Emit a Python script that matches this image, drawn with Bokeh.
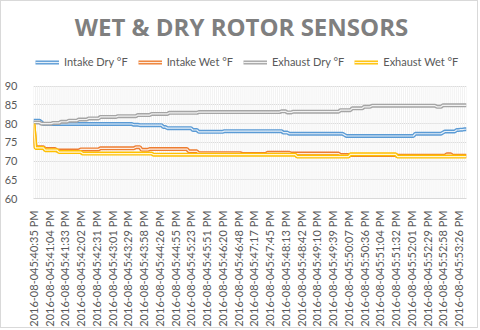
from math import pi
from bokeh.plotting import figure
from bokeh.models import Range1d, FixedTicker, Legend, LegendItem, Label
from bokeh.embed import file_html
from bokeh.resources import INLINE

tick_labels = [
    "2016-08-045:40:35 PM", "2016-08-045:41:04 PM", "2016-08-045:41:33 PM", "2016-08-045:42:02 PM",
    "2016-08-045:42:31 PM", "2016-08-045:43:01 PM", "2016-08-045:43:29 PM", "2016-08-045:43:58 PM",
    "2016-08-045:44:26 PM", "2016-08-045:44:55 PM", "2016-08-045:45:23 PM", "2016-08-045:45:51 PM",
    "2016-08-045:46:20 PM", "2016-08-045:46:48 PM", "2016-08-045:47:17 PM", "2016-08-045:47:45 PM",
    "2016-08-045:48:13 PM", "2016-08-045:48:42 PM", "2016-08-045:49:10 PM", "2016-08-045:49:39 PM",
    "2016-08-045:50:07 PM", "2016-08-045:50:36 PM", "2016-08-045:51:04 PM", "2016-08-045:51:32 PM",
    "2016-08-045:52:01 PM", "2016-08-045:52:29 PM", "2016-08-045:52:58 PM", "2016-08-045:53:26 PM",
]
label_step = 8  # one label every 8 samples
y_ticks = [60, 65, 70, 75, 80, 85, 90]

intake_dry = [
    80.8, 80.8, 80.8, 80.8, 80.4, 79.9, 79.9, 79.9, 79.9, 79.9,
    79.9, 79.9, 79.9, 79.9, 79.9, 79.9, 79.9, 79.9, 79.9, 79.9,
    79.9, 79.9, 79.9, 79.9, 79.9, 79.9, 79.9, 79.9, 79.9, 79.9,
    79.9, 79.9, 79.9, 79.9, 79.9, 79.9, 79.9, 79.9, 79.9, 79.9,
    79.9, 79.9, 79.9, 79.9, 79.9, 79.9, 79.9, 79.9, 79.9, 79.9,
    79.9, 79.7, 79.7, 79.7, 79.6, 79.6, 79.6, 79.6, 79.6, 79.6,
    79.6, 79.6, 79.6, 79.6, 79.6, 79.6, 79.1, 79.1, 78.8, 78.8,
    78.8, 78.8, 78.8, 78.8, 78.8, 78.8, 78.8, 78.8, 78.8, 78.8,
    78.8, 78.3, 78.3, 78.3, 77.8, 77.8, 77.8, 77.8, 77.8, 77.8,
    77.8, 77.8, 77.8, 77.8, 77.8, 77.8, 77.8, 78.0, 78.0, 78.0,
    78.0, 78.0, 78.0, 78.0, 78.0, 78.0, 78.0, 78.0, 78.0, 78.0,
    78.0, 78.0, 78.0, 78.0, 78.0, 78.0, 78.0, 78.0, 78.0, 78.0,
    78.0, 78.0, 78.0, 78.0, 78.0, 78.0, 78.0, 77.6, 77.6, 77.6,
    77.3, 77.3, 77.3, 77.3, 77.3, 77.3, 77.3, 77.3, 77.3, 77.3,
    77.3, 77.3, 77.3, 77.3, 77.3, 77.3, 77.3, 77.3, 77.3, 77.3,
    77.3, 77.3, 77.3, 77.3, 77.3, 77.3, 77.3, 77.3, 77.0, 76.7,
    76.7, 76.7, 76.7, 76.7, 76.7, 76.7, 76.7, 76.7, 76.7, 76.7,
    76.7, 76.7, 76.7, 76.7, 76.7, 76.7, 76.7, 76.7, 76.7, 76.7,
    76.7, 76.7, 76.7, 76.7, 76.7, 76.7, 76.7, 76.7, 76.7, 76.7,
    76.7, 76.7, 76.7, 76.7, 77.3, 77.3, 77.3, 77.3, 77.3, 77.3,
    77.3, 77.3, 77.3, 77.3, 77.3, 77.3, 77.3, 77.3, 77.6, 77.9,
    77.9, 77.9, 77.9, 77.9, 77.9, 78.3, 78.3, 78.4, 78.4, 78.5,
    78.5,
]

intake_wet = [
    79.7, 73.7, 73.7, 73.7, 73.7, 73.7, 73.2, 73.2, 73.2, 73.2,
    73.2, 73.2, 72.8, 72.8, 72.8, 72.8, 72.8, 72.8, 72.8, 72.8,
    72.8, 72.8, 72.8, 72.8, 73.1, 73.1, 73.1, 73.1, 73.1, 73.1,
    73.1, 73.1, 73.1, 73.1, 73.4, 73.4, 73.4, 73.4, 73.4, 73.4,
    73.4, 73.4, 73.4, 73.4, 73.4, 73.4, 73.4, 73.4, 73.4, 73.4,
    73.4, 73.4, 73.7, 73.7, 73.7, 73.0, 73.0, 73.0, 73.0, 73.2,
    73.2, 73.2, 73.2, 73.2, 73.2, 73.2, 73.2, 73.2, 73.2, 73.2,
    73.2, 73.2, 73.2, 73.2, 73.2, 73.2, 73.2, 73.2, 73.2, 72.6,
    72.6, 72.6, 72.6, 72.6, 72.1, 72.1, 72.1, 72.1, 72.1, 72.1,
    72.1, 72.1, 72.1, 72.1, 72.1, 72.1, 72.1, 72.1, 72.1, 72.1,
    72.1, 72.1, 72.1, 72.1, 72.1, 72.1, 71.9, 71.9, 71.9, 71.9,
    71.9, 71.9, 71.9, 71.9, 71.9, 71.9, 71.9, 71.9, 71.9, 72.2,
    72.2, 72.2, 72.2, 72.2, 72.2, 72.2, 72.2, 72.2, 72.2, 72.2,
    72.2, 72.0, 72.0, 72.0, 72.0, 72.0, 72.0, 72.0, 72.0, 72.0,
    72.0, 72.0, 72.0, 72.0, 72.0, 72.0, 72.0, 72.0, 72.0, 72.0,
    72.0, 72.0, 72.0, 72.0, 72.0, 72.0, 71.6, 71.6, 71.6, 71.6,
    71.6, 71.6, 71.6, 71.6, 71.6, 71.6, 71.6, 71.6, 71.6, 71.6,
    71.6, 71.6, 71.6, 71.6, 71.6, 71.6, 71.6, 71.6, 71.6, 71.6,
    71.6, 71.6, 71.6, 71.6, 71.6, 71.4, 71.4, 71.4, 71.4, 71.4,
    71.4, 71.4, 71.4, 71.4, 71.4, 71.4, 71.4, 71.4, 71.4, 71.4,
    71.4, 71.4, 71.4, 71.4, 71.4, 71.4, 71.4, 71.4, 71.4, 71.4,
    71.8, 71.8, 71.8, 71.4, 71.4, 71.4, 71.4, 71.4, 71.4, 71.4,
    71.4,
]

exhaust_dry = [
    80.3, 80.3, 80.3, 80.3, 80.0, 80.0, 80.0, 80.0, 80.0, 80.0,
    80.2, 80.2, 80.2, 80.2, 80.5, 80.5, 80.5, 80.5, 80.8, 80.8,
    80.8, 80.8, 80.8, 81.1, 81.1, 81.1, 81.1, 81.1, 81.4, 81.4,
    81.4, 81.4, 81.4, 81.4, 81.8, 81.8, 81.8, 81.8, 81.8, 81.8,
    81.8, 81.8, 81.8, 82.0, 82.0, 82.0, 82.0, 82.0, 82.0, 82.0,
    82.0, 82.0, 82.0, 82.3, 82.3, 82.3, 82.3, 82.3, 82.3, 82.3,
    82.6, 82.6, 82.6, 82.6, 82.6, 82.6, 82.6, 82.6, 82.6, 82.9,
    82.9, 82.9, 82.9, 82.9, 82.9, 82.9, 82.9, 82.9, 82.9, 82.9,
    82.9, 82.9, 82.9, 82.9, 83.1, 83.1, 83.1, 83.1, 83.1, 83.1,
    83.1, 83.1, 83.1, 83.1, 83.1, 83.1, 83.1, 83.1, 83.1, 83.1,
    83.1, 83.1, 83.1, 83.1, 83.1, 83.1, 83.1, 83.1, 83.1, 83.1,
    83.1, 83.1, 83.1, 83.1, 83.1, 83.1, 83.1, 83.1, 83.1, 83.1,
    83.1, 83.1, 83.1, 83.1, 83.1, 83.1, 83.3, 83.3, 83.3, 83.0,
    83.0, 83.0, 83.2, 83.2, 83.2, 83.2, 83.2, 83.2, 83.2, 83.2,
    83.2, 83.2, 83.2, 83.2, 83.2, 83.2, 83.2, 83.2, 83.2, 83.2,
    83.2, 83.2, 83.2, 83.2, 83.2, 83.2, 83.6, 83.6, 83.6, 83.6,
    83.6, 83.6, 84.1, 84.1, 84.1, 84.1, 84.1, 84.1, 84.5, 84.5,
    84.5, 84.5, 84.8, 84.8, 84.8, 84.8, 84.8, 84.8, 84.8, 84.8,
    84.8, 84.8, 84.8, 84.8, 84.8, 84.8, 84.8, 84.8, 84.8, 84.8,
    84.8, 84.8, 84.8, 84.8, 84.8, 84.8, 84.8, 84.8, 84.8, 84.8,
    84.8, 84.8, 84.8, 84.8, 84.8, 84.5, 84.5, 84.5, 84.9, 84.9,
    84.9, 84.9, 84.9, 84.9, 84.9, 84.9, 84.9, 84.9, 84.9, 84.9,
    84.9,
]

exhaust_wet = [
    80.0, 73.5, 73.5, 73.5, 73.5, 73.5, 72.9, 72.9, 72.9, 72.9,
    72.9, 72.9, 72.9, 72.4, 72.4, 72.4, 72.4, 72.4, 72.4, 72.4,
    72.4, 72.4, 72.4, 72.4, 72.4, 72.0, 72.0, 72.0, 72.0, 72.0,
    72.0, 72.0, 72.0, 72.0, 72.0, 72.0, 72.0, 72.0, 72.0, 72.0,
    72.0, 72.0, 72.0, 72.0, 72.0, 72.0, 72.0, 72.0, 72.0, 72.0,
    72.0, 72.0, 72.0, 72.0, 72.0, 72.0, 72.0, 72.0, 72.0, 72.0,
    72.0, 71.7, 71.7, 71.7, 71.7, 71.7, 71.7, 71.7, 71.7, 71.7,
    71.7, 71.7, 71.7, 71.7, 71.7, 71.7, 71.7, 71.7, 71.7, 71.7,
    71.7, 71.7, 71.7, 71.7, 71.7, 71.7, 71.7, 71.7, 71.7, 71.7,
    71.7, 71.7, 71.7, 71.7, 71.7, 71.7, 71.7, 71.7, 71.7, 71.7,
    71.7, 71.7, 71.7, 71.7, 71.7, 71.7, 71.7, 71.7, 71.7, 71.7,
    71.7, 71.7, 71.7, 71.7, 71.7, 71.7, 71.7, 71.7, 71.7, 71.7,
    71.7, 71.7, 71.7, 71.7, 71.7, 71.7, 71.7, 71.7, 71.7, 71.7,
    71.7, 71.7, 71.7, 71.7, 71.2, 71.2, 71.2, 71.2, 71.2, 71.2,
    71.2, 71.2, 71.2, 71.2, 71.2, 71.2, 71.2, 71.2, 71.2, 71.2,
    71.2, 71.2, 71.2, 71.2, 71.2, 71.2, 71.2, 71.2, 71.2, 71.2,
    71.2, 71.8, 71.8, 71.8, 71.8, 71.8, 71.8, 71.8, 71.8, 71.8,
    71.8, 71.8, 71.8, 71.8, 71.8, 71.8, 71.8, 71.8, 71.8, 71.8,
    71.8, 71.8, 71.8, 71.8, 71.8, 71.2, 71.2, 71.2, 71.2, 71.2,
    71.2, 71.2, 71.2, 71.2, 71.2, 71.2, 71.2, 71.2, 71.2, 71.2,
    71.2, 71.2, 71.2, 71.2, 71.2, 71.2, 71.2, 71.2, 71.2, 71.2,
    71.2, 71.2, 71.2, 71.2, 71.2, 71.2, 71.2, 71.2, 71.2, 71.2,
    71.2,
]

series = [
    ("Intake Dry °F", intake_dry, "#5B9BD5"),
    ("Intake Wet °F", intake_wet, "#ED7D31"),
    ("Exhaust Dry °F", exhaust_dry, "#A5A5A5"),
    ("Exhaust Wet °F", exhaust_wet, "#FFC000"),
]

n = len(intake_dry)
TXT = "#595959"

# Frame spans the whole height above the x-axis; the value scale (60..90 over 114 px)
# is extended upward so the title and legend can sit inside the frame without clipping.
FRAME_H = 200
PLOT_H = 114
y_top = y_ticks[0] + FRAME_H * (y_ticks[-1] - y_ticks[0]) / PLOT_H

p = figure(width=478, height=328, output_backend="svg", toolbar_location=None,
           x_range=Range1d(0, n - 1), y_range=Range1d(y_ticks[0], y_top),
           min_border_left=31, min_border_right=13, min_border_bottom=128, min_border_top=0)
p.styles = {"border": "1px solid #d9d9d9"}
p.outline_line_color = None
p.background_fill_color = "white"
p.border_fill_color = "white"

xs_all = list(range(n))
p.segment(x0=xs_all, y0=[y_ticks[0]] * n, x1=xs_all, y1=[y_ticks[-1]] * n,
          line_color="#f2f2f2", line_width=1)

p.add_layout(Label(x=208, y=172, x_units="screen", y_units="screen",
                   text="WET & DRY ROTOR SENSORS", text_align="center", text_baseline="middle",
                   text_font="Open Sans", text_font_style="bold", text_font_size="24px",
                   text_color="#7F7F7F"))

items = []
for name, vals, col in series:
    xs = list(range(len(vals)))
    outer = p.line(xs, vals, line_width=4, line_color=col)
    inner = p.line(xs, vals, line_width=1.2, line_color="white", line_alpha=0.85)
    items.append(LegendItem(label=name, renderers=[outer, inner]))

legend = Legend(items=items, orientation="horizontal", location=(2, 130))
legend.label_text_font = "Lato"
legend.label_text_font_size = "11px"
legend.label_text_color = TXT
legend.glyph_width = 24
legend.glyph_height = 10
legend.spacing = 10
legend.label_standoff = 5
legend.padding = 0
legend.margin = 0
legend.border_line_color = None
legend.background_fill_alpha = 0
p.add_layout(legend, "center")

tick_pos = [j * label_step for j in range(len(tick_labels))]
p.xaxis.ticker = FixedTicker(ticks=tick_pos)
p.xaxis.major_label_overrides = {t: lab for t, lab in zip(tick_pos, tick_labels)}
p.xaxis.major_label_orientation = pi / 2
p.xaxis.major_label_text_font = "Lato"
p.xaxis.major_label_text_font_size = "11px"
p.xaxis.major_label_text_color = TXT
p.xaxis.major_label_standoff = 6
p.xaxis.axis_line_color = "#d9d9d9"
p.xaxis.major_tick_line_color = None
p.xaxis.minor_tick_line_color = None

p.yaxis.ticker = FixedTicker(ticks=y_ticks)
p.yaxis.major_label_text_font = "Lato"
p.yaxis.major_label_text_font_size = "11px"
p.yaxis.major_label_text_color = TXT
p.yaxis.major_label_standoff = 10
p.yaxis.axis_line_color = None
p.yaxis.major_tick_line_color = None
p.yaxis.minor_tick_line_color = None

p.xgrid.grid_line_color = None
p.ygrid.ticker = FixedTicker(ticks=y_ticks)
p.ygrid.grid_line_color = "#d9d9d9"

open("out.html", "w").write(file_html(p, INLINE))
